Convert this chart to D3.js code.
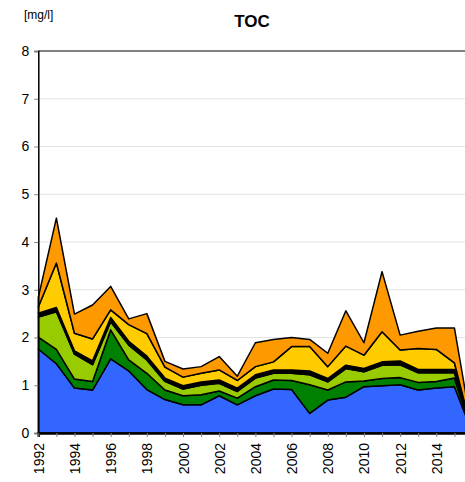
<!DOCTYPE html>
<html><head><meta charset="utf-8">
<script src="https://cdn.jsdelivr.net/npm/d3@7"></script>
<style>body{margin:0;background:#fff}svg{display:block;font-family:"Liberation Sans",Arial,sans-serif}</style>
</head><body><div id="chart"></div>
<script>
const years = [1992,1993,1994,1995,1996,1997,1998,1999,2000,2001,2002,2003,2004,2005,2006,2007,2008,2009,2010,2011,2012,2013,2014,2015,2016];
const seriesNames = ["blue","darkgreen","lightgreen","black","yellow","orange"];
const blue       = [1.76,1.45,0.94,0.90,1.55,1.30,0.91,0.70,0.59,0.59,0.78,0.59,0.78,0.92,0.91,0.41,0.69,0.75,0.97,0.99,1.01,0.90,0.94,0.97,0];
const darkgreen  = [0.25,0.30,0.19,0.18,0.61,0.23,0.34,0.20,0.19,0.21,0.10,0.14,0.19,0.19,0.19,0.60,0.21,0.32,0.12,0.15,0.15,0.16,0.14,0.18,0];
const lightgreen = [0.42,0.79,0.52,0.35,0.17,0.31,0.28,0.18,0.14,0.20,0.16,0.14,0.18,0.14,0.15,0.21,0.17,0.28,0.19,0.28,0.27,0.20,0.18,0.11,0];
const black      = [0.08,0.09,0.07,0.08,0.09,0.08,0.08,0.07,0.07,0.07,0.07,0.07,0.07,0.07,0.07,0.08,0.07,0.07,0.07,0.07,0.08,0.07,0.07,0.07,0];
const yellow     = [0.13,0.93,0.37,0.46,0.16,0.35,0.47,0.23,0.18,0.18,0.21,0.16,0.17,0.17,0.49,0.51,0.25,0.40,0.28,0.63,0.23,0.44,0.42,0.14,0];
const orange     = [0.20,0.94,0.40,0.71,0.49,0.12,0.42,0.12,0.17,0.14,0.28,0.09,0.50,0.47,0.19,0.15,0.28,0.74,0.26,1.26,0.31,0.36,0.45,0.73,0];
const colors = ["#3366ff","#008000","#99cc00","#000000","#ffcc00","#ff9900"];
const yTicks = [0,1,2,3,4,5,6,7,8];
const xLabelYears = [1992,1994,1996,1998,2000,2002,2004,2006,2008,2010,2012,2014];
const title = "TOC", unit = "[mg/l]";

const W = 465, H = 482;
const x0 = 38.3, x1 = 472.5, yTop = 51, yBot = 433;
const svg = d3.select("#chart").append("svg").attr("width", W).attr("height", H);

const x = d3.scaleLinear().domain([1992, 2016]).range([x0, x1]);
const y = d3.scaleLinear().domain([0, 8]).range([yBot, yTop]);

const vals = {blue, darkgreen, lightgreen, black, yellow, orange};
const table = years.map((yr, i) => {
  const r = {year: yr};
  seriesNames.forEach(n => r[n] = vals[n][i]);
  return r;
});
const stacked = d3.stack().keys(seriesNames)(table);

// gridlines
svg.append("g").selectAll("line").data(yTicks.filter(d => d > 0 && d < 8)).join("line")
  .attr("x1", x0).attr("x2", W).attr("y1", d => y(d)).attr("y2", d => y(d))
  .attr("stroke", "#e3e3e3").attr("stroke-width", 1);
// top frame line
svg.append("line").attr("x1", x0).attr("x2", W).attr("y1", y(8)).attr("y2", y(8))
  .attr("stroke", "#808080").attr("stroke-width", 2);

// areas
const area = d3.area().x(d => x(d.data.year)).y0(d => y(d[0])).y1(d => y(d[1]));
svg.append("g").selectAll("path").data(stacked).join("path")
  .attr("d", area)
  .attr("fill", (d, i) => colors[i])
  .attr("stroke", "#000").attr("stroke-width", 1.5).attr("stroke-linejoin", "round");

// y axis
const yAxis = d3.axisLeft(y).tickValues(yTicks).tickSize(4).tickPadding(5).tickFormat(d3.format("d"));
const ga = svg.append("g").attr("transform", `translate(${x0},0)`).call(yAxis);
ga.select(".domain").attr("stroke", "#000").attr("stroke-width", 1.5);
ga.selectAll(".tick line").attr("stroke", "#808080");
ga.selectAll("text").attr("font-size", 14).attr("fill", "#000").attr("font-family", "Liberation Sans, Arial, sans-serif");

// x axis
const xAxis = d3.axisBottom(x).tickValues(years).tickSize(4).tickFormat(d => xLabelYears.includes(d) ? String(d) : "");
const gx = svg.append("g").attr("transform", `translate(0,${yBot})`).call(xAxis);
gx.select(".domain").attr("stroke", "#000").attr("stroke-width", 2.5);
gx.selectAll(".tick line").attr("stroke", "#808080");
gx.selectAll("text")
  .attr("font-size", 14).attr("fill", "#000").attr("font-family", "Liberation Sans, Arial, sans-serif")
  .attr("text-anchor", "end").attr("dy", "0.36em")
  .attr("transform", "translate(0,10) rotate(-90)")
  .attr("x", 0).attr("y", 0);

// titles
svg.append("text").attr("x", 252).attr("y", 27).attr("text-anchor", "middle")
  .attr("font-size", 17).attr("font-weight", "bold").text(title);
svg.append("text").attr("x", 24).attr("y", 19).attr("font-size", 12).text(unit);
</script></body></html>
